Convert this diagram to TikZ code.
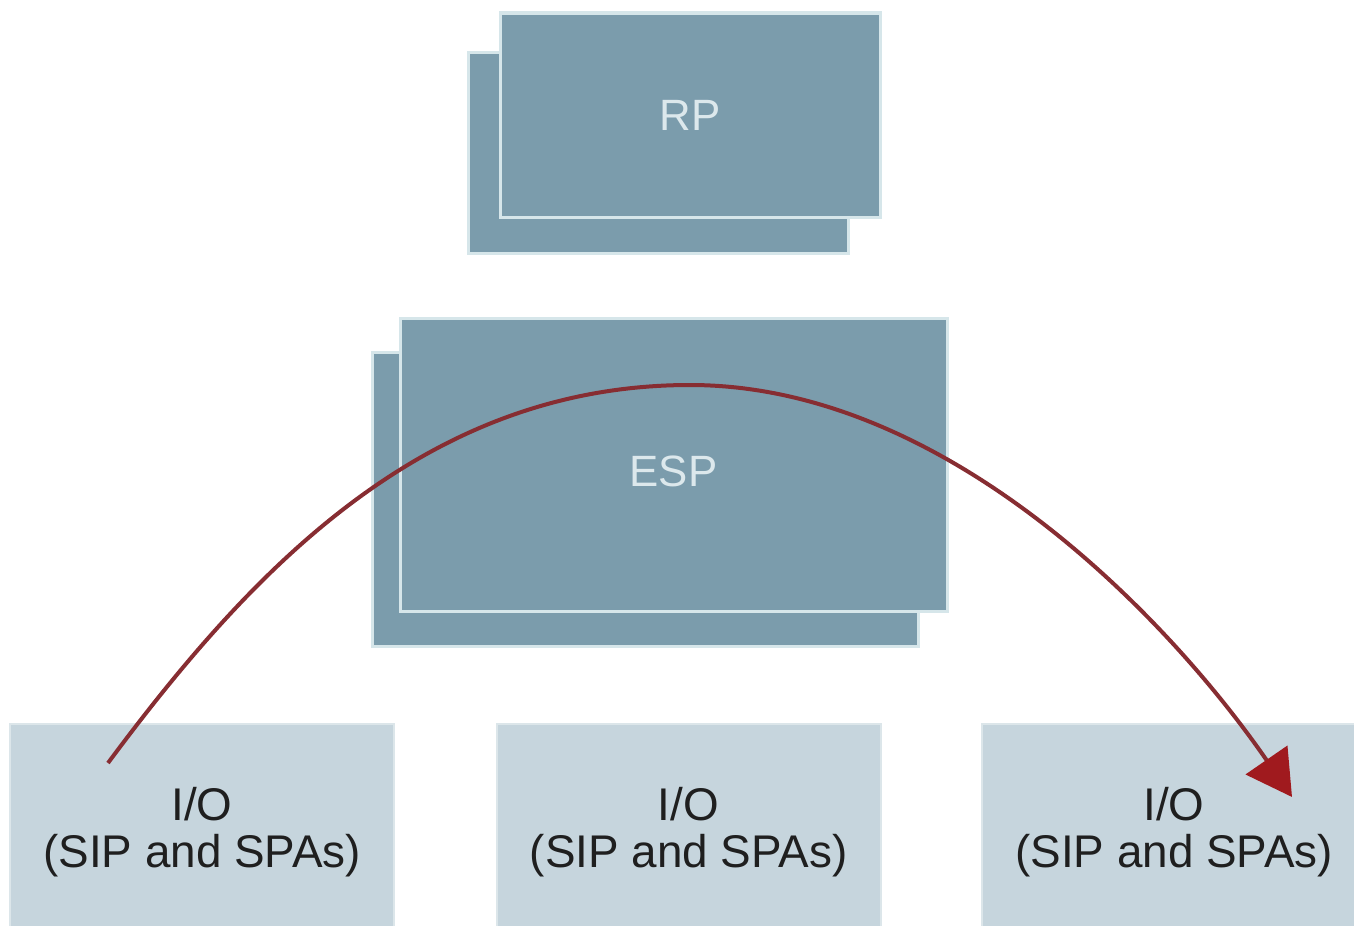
\documentclass[tikz,border=0pt]{standalone}
\usepackage{fontspec}
\setmainfont{Liberation Sans}
\usetikzlibrary{arrows.meta}
\definecolor{boxdark}{RGB}{123,156,172}
\definecolor{boxedge}{RGB}{214,230,234}
\definecolor{iofill}{RGB}{198,213,221}
\definecolor{ioedge}{RGB}{220,230,234}
\definecolor{darktext}{RGB}{220,232,236}
\definecolor{flowline}{RGB}{135,45,50}
\definecolor{flowhead}{RGB}{160,26,30}
\tikzset{
  unitbox/.style={rectangle, fill=boxdark, draw=boxedge, line width=3bp, inner sep=0pt,
    text=darktext, font=\fontsize{44}{48}\selectfont},
  iobox/.style={rectangle, fill=iofill, draw=ioedge, line width=2bp, inner sep=0pt,
    minimum width=384bp, minimum height=216bp, align=center, text=black!88,
    font=\fontsize{46}{47}\selectfont},
  flow/.style={draw=flowline, line width=4bp,
    -{Triangle[length=45bp,width=50bp,fill=flowhead,color=flowhead]}}
}
\begin{document}
\begin{tikzpicture}[x=1bp,y=-1bp]
\useasboundingbox (0,0) rectangle (1354,925);
\fill[white] (0,0) rectangle (1354,925);
% RP stack
\node[unitbox, minimum width=380bp, minimum height=201bp] (rpback) at (658,152.5) {};
\node[unitbox, minimum width=380bp, minimum height=204bp] (rp) at (690,115) {RP};
% ESP stack
\node[unitbox, minimum width=546bp, minimum height=294bp] (espback) at (645,499) {};
\node[unitbox, minimum width=547bp, minimum height=293bp, text height=43bp, text depth=0bp] (esp) at (673.5,464.5) {ESP};
% I/O boxes
\node[iobox] (io1) at (202,832) {I/O\\(SIP and SPAs)};
\node[iobox] (io2) at (688.5,832) {I/O\\(SIP and SPAs)};
\node[iobox] (io3) at (1174,832) {I/O\\(SIP and SPAs)};
% flow arrow
\coordinate (a) at (108,763);
\coordinate (peak) at (690,385);
\coordinate (b) at (1292,797);
\draw[flow] (a) .. controls (255,565) and (428,385) .. (peak)
  .. controls (949,385) and (1172,623) .. (b);
\end{tikzpicture}
\end{document}
